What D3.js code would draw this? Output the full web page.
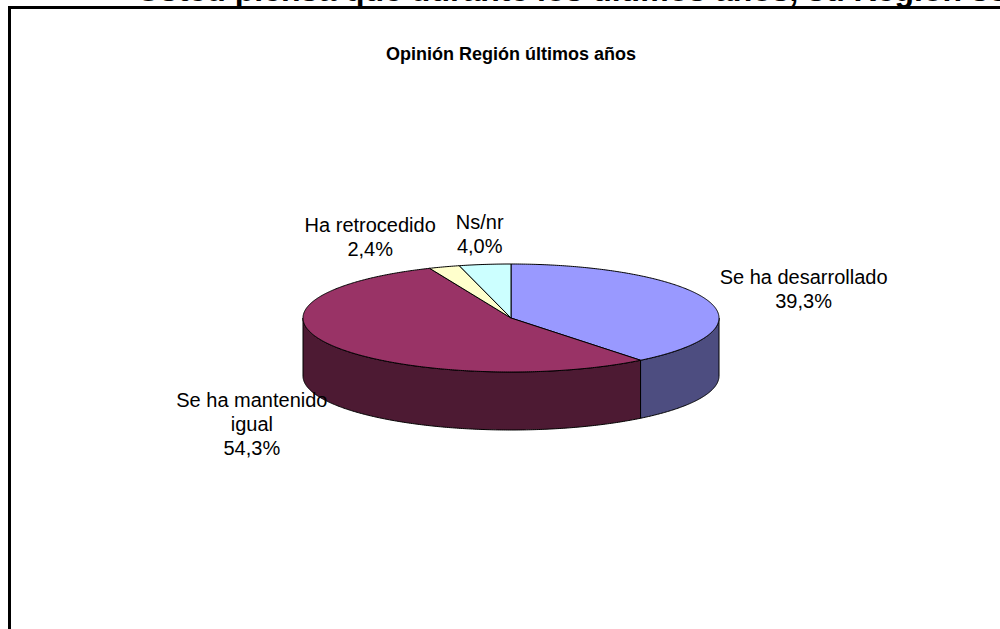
<!DOCTYPE html>
<meta charset="utf-8">
<title>Opinión Región últimos años</title>
<style>
  body { margin: 0; background: #fff; }
  svg { display: block; font-family: Arial, "Liberation Sans", sans-serif; }
</style>
<script src="https://d3js.org/d3.v7.min.js"></script>
<body>
<div id="chart"></div>
<script>

// data
var categories = ["Se ha desarrollado", "Se ha mantenido igual", "Ha retrocedido", "Ns/nr"];
var values = [39.3, 54.3, 2.4, 4.0];
var topColors = ["#9999FF", "#993366", "#FFFFCC", "#CCFFFF"];
var sideColors = ["#4D4D80", "#4D1A33", "#80806A", "#6A8080"];
var heading = "Usted piensa que durante los últimos años, su Región se ha desarrollado";
var title = "Opinión Región últimos años";

var width = 1000, height = 629;

var svg = d3.select("#chart")
  .append("svg")
    .attr("width", width)
    .attr("height", height);

// clipped heading above the chart box
svg.append("text")
  .attr("x", 137)
  .attr("y", 1)
  .attr("font-size", "32px")
  .attr("font-weight", "bold")
  .text(heading);

// chart box
svg.append("rect")
  .attr("x", 9.5)
  .attr("y", 7.5)
  .attr("width", 1100)
  .attr("height", 700)
  .attr("fill", "#fff")
  .attr("stroke", "#000")
  .attr("stroke-width", 3);

svg.append("text")
  .attr("x", 511)
  .attr("y", 60)
  .attr("text-anchor", "middle")
  .attr("font-size", "18px")
  .attr("font-weight", "bold")
  .text(title);

// 3d pie geometry
var cx = 511, cy = 318, rx = 208, ry = 54, depth = 58;

var pie = d3.pie().sort(null).startAngle(0).endAngle(2 * Math.PI);
var arcs = pie(values);

function pt(a, dy) {
  return [cx + rx * Math.sin(a), cy - ry * Math.cos(a) + (dy || 0)];
}
function arcPoints(a0, a1, dy) {
  var n = Math.max(2, Math.ceil(Math.abs(a1 - a0) / 0.01));
  return d3.range(n + 1).map(function(i) { return pt(a0 + (a1 - a0) * i / n, dy); });
}
var line = d3.line();

// sides (only the front half is visible)
var g = svg.append("g");
arcs.forEach(function(d, i) {
  var s = Math.max(d.startAngle, Math.PI / 2),
      e = Math.min(d.endAngle, 3 * Math.PI / 2);
  if (e <= s) return;
  var pts = arcPoints(s, e, 0).concat(arcPoints(e, s, depth));
  g.append("path")
    .attr("d", line(pts) + "Z")
    .attr("fill", sideColors[i])
    .attr("stroke", "#000")
    .attr("stroke-width", 1)
    .attr("stroke-linejoin", "round");
});

// tops
arcs.forEach(function(d, i) {
  var pts = [[cx, cy]].concat(arcPoints(d.startAngle, d.endAngle, 0));
  g.append("path")
    .attr("d", line(pts) + "Z")
    .attr("fill", topColors[i])
    .attr("stroke", "#000")
    .attr("stroke-width", 1)
    .attr("stroke-linejoin", "round");
});

// labels
var fontSize = 20, lh = 24, padX = 18, padY = 6, maxW = 190;
var ctx = document.createElement("canvas").getContext("2d");
ctx.font = fontSize + "px Arial, 'Liberation Sans', sans-serif";

function wrap(txt) {
  var words = txt.split(" "), lines = [], cur = "";
  words.forEach(function(w) {
    var t = cur ? cur + " " + w : w;
    if (ctx.measureText(t).width > maxW && cur) { lines.push(cur); cur = w; }
    else cur = t;
  });
  lines.push(cur);
  return lines;
}

var labels = arcs.map(function(d, i) {
  var a = (d.startAngle + d.endAngle) / 2;
  var lines = wrap(categories[i]).concat([values[i].toFixed(1).replace(".", ",") + "%"]);
  var w = d3.max(lines, function(l) { return ctx.measureText(l).width; });
  var h = lines.length * lh;
  var front = Math.cos(a) < 0;
  var p = pt(a, front ? depth : 0);
  var dx = Math.sin(a), dy = -Math.cos(a);
  return {
    lines: lines, w: w, h: h,
    x: p[0] + dx * (w / 2 + padX),
    y: p[1] + dy * (h / 2 + padY)
  };
});

// push overlapping neighbours apart (move the earlier one to the left)
var gap = 20;
for (var i = labels.length - 2; i >= 0; i--) {
  var A = labels[i], B = labels[i + 1];
  var overlapY = Math.abs(A.y - B.y) < (A.h + B.h) / 2;
  var right = A.x + A.w / 2, left = B.x - B.w / 2;
  if (overlapY && right > left - gap && A.x < B.x) A.x -= right - (left - gap);
}

labels.forEach(function(L) {
  var t = svg.append("text")
    .attr("text-anchor", "middle")
    .attr("font-size", fontSize + "px")
    .attr("fill", "#000");
  L.lines.forEach(function(l, k) {
    t.append("tspan")
      .attr("x", L.x)
      .attr("y", L.y - L.h / 2 + lh * k + 18)
      .text(l);
  });
});

</script>
</body>
